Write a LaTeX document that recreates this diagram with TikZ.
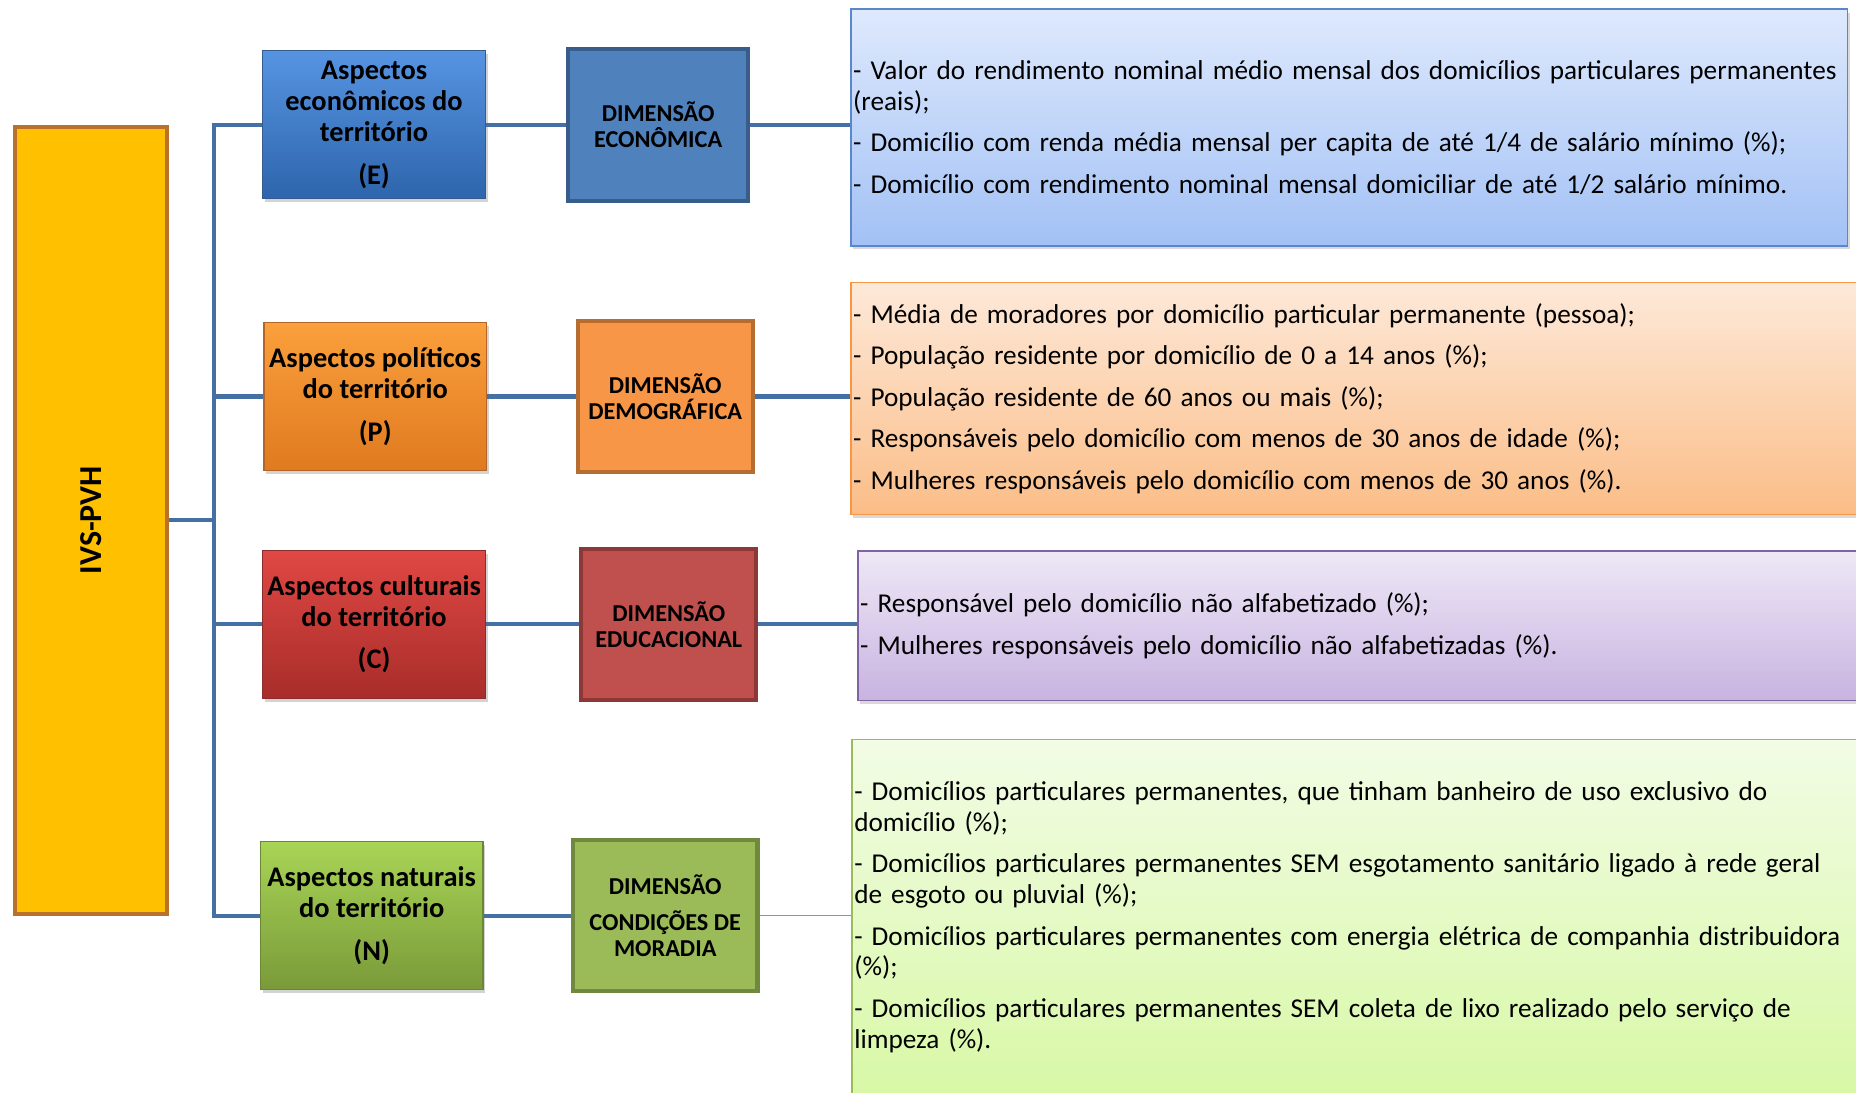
\documentclass[tikz,border=0pt]{standalone}
\usepackage{fontspec}
\setmainfont{Carlito}
\usetikzlibrary{shadows,calc}

\definecolor{linha}{HTML}{4470A6}
\definecolor{linhaN}{HTML}{4BACC6}
\definecolor{ouro}{HTML}{FFC000}
\definecolor{ourob}{HTML}{B8722C}

\begin{document}
\begin{tikzpicture}[x=1pt,y=-1pt,
  aspecto/.style={draw, line width=1pt, minimum width=188, minimum height=125, align=center,
    font=\fontsize{24}{26}\selectfont\bfseries,
    drop shadow={shadow xshift=2pt, shadow yshift=-3pt, opacity=.35}},
  dimensao/.style={draw, line width=3.5pt, minimum width=148, minimum height=128, align=center,
    font=\fontsize{20.5}{22}\selectfont\bfseries},
  descricao/.style={draw, line width=1.5pt, anchor=north west, align=left, inner xsep=2pt,
    font=\fontsize{23}{26}\selectfont,
    drop shadow={shadow xshift=2pt, shadow yshift=-3pt, opacity=.3}},
  ligacao/.style={line width=3.5pt, color=linha}]

  \useasboundingbox (0,0) rectangle (1568,923);

  % Índice
  \node[draw=ourob, fill=ouro, line width=3.5pt, minimum width=128, minimum height=665,
    font=\fontsize{27}{30}\selectfont\bfseries] (ivs) at (77,439.5) {\rotatebox{90}{IVS-PVH}};
  \coordinate (tronco) at (181,439.5);

  % Aspectos do território
  \node[aspecto, draw={rgb,255:red,53;green,92;blue,140}, top color={rgb,255:red,86;green,148;blue,226},
    bottom color={rgb,255:red,46;green,101;blue,172}]
    (aspE) at (316,105.5) {Aspectos\\econômicos do\\território\\[10pt](E)};
  \node[aspecto, draw={rgb,255:red,180;green,100;blue,40}, top color={rgb,255:red,250;green,160;blue,60},
    bottom color={rgb,255:red,224;green,122;blue,32}]
    (aspP) at (317,335) {Aspectos políticos\\do território\\[10pt](P)};
  \node[aspecto, draw={rgb,255:red,140;green,45;blue,45}, top color={rgb,255:red,224;green,72;blue,68},
    bottom color={rgb,255:red,168;green,45;blue,42}]
    (aspC) at (316,527.5) {Aspectos culturais\\do território\\[10pt](C)};
  \node[aspecto, draw={rgb,255:red,105;green,135;blue,55}, top color={rgb,255:red,168;green,212;blue,85},
    bottom color={rgb,255:red,122;green,154;blue,58}]
    (aspN) at (314,773.5) {Aspectos naturais\\do território\\[10pt](N)};

  % Dimensões
  \node[dimensao, fill={rgb,255:red,79;green,129;blue,189}, draw={rgb,255:red,56;green,93;blue,138}, minimum width=152]
    (dimE) at (556,105.5) {DIMENSÃO\\ECONÔMICA};
  \node[dimensao, fill={rgb,255:red,247;green,150;blue,70}, draw={rgb,255:red,182;green,109;blue,49}]
    (dimP) at (562,335) {DIMENSÃO\\DEMOGRÁFICA};
  \node[dimensao, fill={rgb,255:red,192;green,80;blue,77}, draw={rgb,255:red,140;green,56;blue,54}]
    (dimC) at (565,527.5) {DIMENSÃO\\EDUCACIONAL};
  \node[dimensao, fill={rgb,255:red,155;green,187;blue,89}, draw={rgb,255:red,113;green,137;blue,63}, minimum width=156]
    (dimN) at (562,773.5) {DIMENSÃO\\[8pt]CONDIÇÕES DE\\MORADIA};

  % Indicadores
  \node[descricao, draw={rgb,255:red,90;green,134;blue,203}, top color={rgb,255:red,222;green,233;blue,253},
    bottom color={rgb,255:red,163;green,193;blue,245}, text width=838, minimum height=200]
    (descE) at (718,7) {- Valor do rendimento nominal médio mensal dos domicílios particulares permanentes\\(reais);\\[9pt]- Domicílio com renda média mensal per capita de até 1/4 de salário mínimo (\%);\\[9pt]- Domicílio com rendimento nominal mensal domiciliar de até 1/2 salário mínimo.};
  \node[descricao, draw={rgb,255:red,247;green,150;blue,70}, top color={rgb,255:red,253;green,233;blue,217},
    bottom color={rgb,255:red,251;green,189;blue,135}, text width=853, minimum height=196]
    (descP) at (718,238) {- Média de moradores por domicílio particular permanente (pessoa);\\[9pt]- População residente por domicílio de 0 a 14 anos (\%);\\[9pt]- População residente de 60 anos ou mais (\%);\\[9pt]- Responsáveis pelo domicílio com menos de 30 anos de idade (\%);\\[9pt]- Mulheres responsáveis pelo domicílio com menos de 30 anos (\%).};
  \node[descricao, draw={rgb,255:red,128;green,100;blue,162}, top color={rgb,255:red,238;green,232;blue,246},
    bottom color={rgb,255:red,200;green,179;blue,225}, text width=847, minimum height=126]
    (descC) at (724,465) {- Responsável pelo domicílio não alfabetizado (\%);\\[9pt]- Mulheres responsáveis pelo domicílio não alfabetizadas (\%).};
  \node[descricao, draw={rgb,255:red,155;green,187;blue,89}, top color={rgb,255:red,242;green,252;blue,229},
    bottom color={rgb,255:red,216;green,248;blue,166}, text width=852, minimum height=300]
    (descN) at (719,624) {- Domicílios particulares permanentes, que tinham banheiro de uso exclusivo do\\domicílio (\%);\\[9pt]- Domicílios particulares permanentes SEM esgotamento sanitário ligado à rede geral\\de esgoto ou pluvial (\%);\\[9pt]- Domicílios particulares permanentes com energia elétrica de companhia distribuidora\\(\%);\\[9pt]- Domicílios particulares permanentes SEM coleta de lixo realizado pelo serviço de\\limpeza (\%).};

  % Ligações
  \draw[ligacao] (ivs.east) -- (tronco);
  \draw[ligacao] (aspE.west) -- (aspE.west -| tronco) -- (aspN.west -| tronco) -- (aspN.west);
  \foreach \n in {P,C} {
    \draw[ligacao] (asp\n.west) -- (asp\n.west -| tronco);
  }
  \foreach \n in {E,P,C,N} {
    \draw[ligacao] (asp\n.east) -- (dim\n.west);
  }
  \foreach \n in {E,P,C} {
    \draw[ligacao] (dim\n.east) -- (dim\n.east -| desc\n.west);
  }
  \draw[line width=1.5pt, linhaN] (dimN.east) -- (dimN.east -| descN.west);
\end{tikzpicture}
\end{document}
